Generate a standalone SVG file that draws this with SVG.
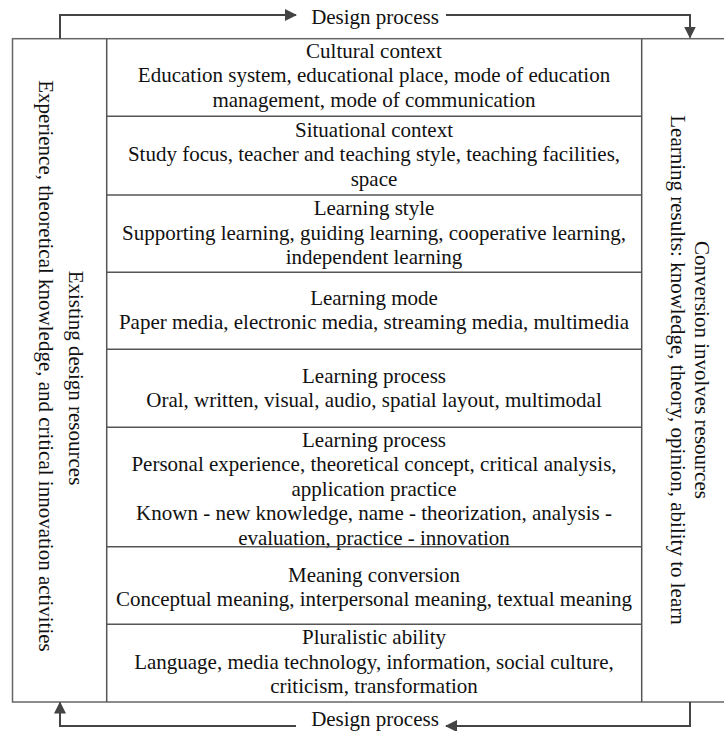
<svg xmlns="http://www.w3.org/2000/svg" width="724" height="731" viewBox="0 0 724 731">
<style>
text{font-family:"Liberation Serif","Times New Roman",serif;font-size:21px;fill:#111;}
.c{text-anchor:middle;}
.box{fill:#fff;stroke:#666;stroke-width:1.5;}
.grid{stroke:#555;stroke-width:1.5;fill:none;}
.flow{stroke:#444;stroke-width:2;fill:none;}
</style>
<defs>
<marker id="a" viewBox="0 0 12 12" refX="11" refY="6" markerWidth="12" markerHeight="12" orient="auto" markerUnits="userSpaceOnUse">
<path d="M0,0 L12,6 L0,12 Z" fill="#444"/>
</marker>
</defs>
<rect width="724" height="731" fill="#fff"/>
<g id="frame">
<rect class="box" x="12.5" y="38.7" width="720" height="663.3"/>
<line class="grid" x1="106.7" y1="38.7" x2="106.7" y2="702"/>
<line class="grid" x1="641.7" y1="38.7" x2="641.7" y2="702"/>
</g>
<g id="left-column">
<text class="c" transform="translate(69,378) rotate(90)">Existing design resources</text>
<text class="c" transform="translate(39,366) rotate(90)">Experience, theoretical knowledge, and critical innovation activities</text>
</g>
<g id="right-column">
<text class="c" transform="translate(695,370) rotate(90)">Conversion involves resources</text>
<text class="c" transform="translate(671,370) rotate(90)">Learning results: knowledge, theory, opinion, ability to learn</text>
</g>
<g id="row1">
<text class="c" x="374" y="57.5">Cultural context</text>
<text class="c" x="374" y="82">Education system, educational place, mode of education</text>
<text class="c" x="374" y="106.5">management, mode of communication</text>
</g>
<g id="row2">
<line class="grid" x1="106.7" y1="116.3" x2="641.7" y2="116.3"/>
<text class="c" x="374" y="136.5">Situational context</text>
<text class="c" x="374" y="161">Study focus, teacher and teaching style, teaching facilities,</text>
<text class="c" x="374" y="185.5">space</text>
</g>
<g id="row3">
<line class="grid" x1="106.7" y1="195" x2="641.7" y2="195"/>
<text class="c" x="374" y="215">Learning style</text>
<text class="c" x="374" y="239.5">Supporting learning, guiding learning, cooperative learning,</text>
<text class="c" x="374" y="264">independent learning</text>
</g>
<g id="row4">
<line class="grid" x1="106.7" y1="272.3" x2="641.7" y2="272.3"/>
<text class="c" x="374" y="304.5">Learning mode</text>
<text class="c" x="374" y="329">Paper media, electronic media, streaming media, multimedia</text>
</g>
<g id="row5">
<line class="grid" x1="106.7" y1="349.3" x2="641.7" y2="349.3"/>
<text class="c" x="374" y="382.5">Learning process</text>
<text class="c" x="374" y="407">Oral, written, visual, audio, spatial layout, multimodal</text>
</g>
<g id="row6">
<line class="grid" x1="106.7" y1="427.3" x2="641.7" y2="427.3"/>
<text class="c" x="374" y="446.5">Learning process</text>
<text class="c" x="374" y="471">Personal experience, theoretical concept, critical analysis,</text>
<text class="c" x="374" y="495.5">application practice</text>
<text class="c" x="374" y="520">Known - new knowledge, name - theorization, analysis -</text>
<text class="c" x="374" y="544.5">evaluation, practice - innovation</text>
</g>
<g id="row7">
<line class="grid" x1="106.7" y1="546.7" x2="641.7" y2="546.7"/>
<text class="c" x="374" y="581.5">Meaning conversion</text>
<text class="c" x="374" y="606">Conceptual meaning, interpersonal meaning, textual meaning</text>
</g>
<g id="row8">
<line class="grid" x1="106.7" y1="624.3" x2="641.7" y2="624.3"/>
<text class="c" x="374" y="644">Pluralistic ability</text>
<text class="c" x="374" y="668.5">Language, media technology, information, social culture,</text>
<text class="c" x="374" y="693">criticism, transformation</text>
</g>
<g id="connectors">
<path class="flow" d="M60,38.7 V15 H296" marker-end="url(#a)"/>
<path class="flow" d="M446,15 H690 V37.5" marker-end="url(#a)"/>
<path class="flow" d="M690,702 V726 H446" marker-end="url(#a)"/>
<path class="flow" d="M296,726 H60 V702.5" marker-end="url(#a)"/>
<text class="c" x="375" y="24">Design process</text>
<text class="c" x="375" y="726">Design process</text>
</g>
</svg>
